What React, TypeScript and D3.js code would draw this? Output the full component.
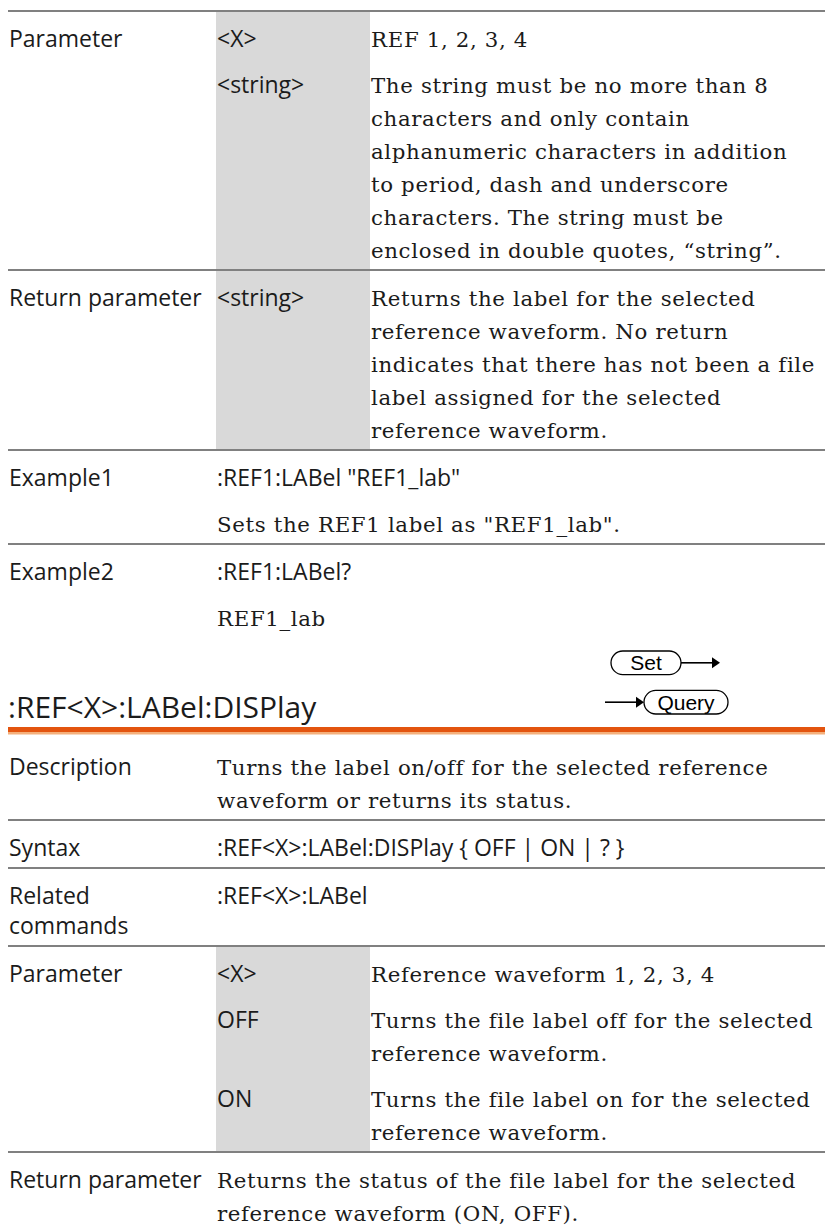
import React, { useRef, useEffect } from 'react';
import * as d3 from 'd3';

interface Entry {
  key?: string;
  face: 'sans' | 'serif';
  lines: string[];
}

interface Row {
  label: string[];
  entries: Entry[];
  shaded?: boolean;
}

// rows of the :REF<X>:LABel block (continued from the previous page)
const labelRows: Row[] = [
  {
    label: ['Parameter'],
    shaded: true,
    entries: [
      { key: '<X>', face: 'serif', lines: ['REF 1, 2, 3, 4'] },
      {
        key: '<string>',
        face: 'serif',
        lines: [
          'The string must be no more than 8',
          'characters and only contain',
          'alphanumeric characters in addition',
          'to period, dash and underscore',
          'characters. The string must be',
          'enclosed in double quotes, \u201cstring\u201d.',
        ],
      },
    ],
  },
  {
    label: ['Return parameter'],
    shaded: true,
    entries: [
      {
        key: '<string>',
        face: 'serif',
        lines: [
          'Returns the label for the selected',
          'reference waveform. No return',
          'indicates that there has not been a file',
          'label assigned for the selected',
          'reference waveform.',
        ],
      },
    ],
  },
  {
    label: ['Example1'],
    entries: [
      { face: 'sans', lines: [':REF1:LABel "REF1_lab"'] },
      { face: 'serif', lines: ['Sets the REF1 label as "REF1_lab".'] },
    ],
  },
  {
    label: ['Example2'],
    entries: [
      { face: 'sans', lines: [':REF1:LABel?'] },
      { face: 'serif', lines: ['REF1_lab'] },
    ],
  },
];

const displayHeading = ':REF<X>:LABel:DISPlay';

const displayRows: Row[] = [
  {
    label: ['Description'],
    entries: [
      {
        face: 'serif',
        lines: ['Turns the label on/off for the selected reference', 'waveform or returns its status.'],
      },
    ],
  },
  {
    label: ['Syntax'],
    entries: [{ face: 'sans', lines: [':REF<X>:LABel:DISPlay { OFF | ON | ? }'] }],
  },
  {
    label: ['Related', 'commands'],
    entries: [{ face: 'sans', lines: [':REF<X>:LABel'] }],
  },
  {
    label: ['Parameter'],
    shaded: true,
    entries: [
      { key: '<X>', face: 'serif', lines: ['Reference waveform 1, 2, 3, 4'] },
      { key: 'OFF', face: 'serif', lines: ['Turns the file label off for the selected', 'reference waveform.'] },
      { key: 'ON', face: 'serif', lines: ['Turns the file label on for the selected', 'reference waveform.'] },
    ],
  },
  {
    label: ['Return parameter'],
    entries: [
      {
        face: 'serif',
        lines: ['Returns the status of the file label for the selected', 'reference waveform (ON, OFF).'],
      },
    ],
  },
];

const commandModes = ['Set', 'Query'];

const W = 825;
const H = 1229;
const SANS = '"Open Sans", "Noto Sans", sans-serif';
const SERIF = '"DejaVu Serif", serif';
const INK = '#1b1b1b';

const App: React.FC = () => {
  const svgRef = useRef<SVGSVGElement>(null);

  useEffect(() => {
    if (!svgRef.current) return;
    const svg = d3.select(svgRef.current);
    svg.selectAll('*').remove();

    // column positions
    const colX = d3.scaleOrdinal<string, number>()
      .domain(['rule', 'label', 'key', 'text', 'shadeEnd'])
      .range([8, 9, 217, 371, 370]);
    const shadeX0 = 216;

    const padTop = 36;
    const padBottom = 12;
    const entryGap = 46;
    const lineStep = 33;
    const labelStep = 30;

    const sansText = (sel: d3.Selection<SVGTextElement, unknown, null, undefined>) =>
      sel.style('font-family', SANS).style('font-size', '23px').style('fill', INK);
    const serifText = (sel: d3.Selection<SVGTextElement, unknown, null, undefined>) =>
      sel.style('font-family', SERIF)
        .style('font-size', '21.3px')
        .style('letter-spacing', '0.65px')
        .style('fill', INK);

    const rule = (y: number) => {
      svg.append('line')
        .attr('x1', colX('rule'))
        .attr('x2', W)
        .attr('y1', y)
        .attr('y2', y)
        .attr('stroke', '#808080')
        .attr('stroke-width', 2);
    };

    // draws a block of rows starting at y, returns last baseline
    const drawRows = (rows: Row[], startY: number, ruleFirst: boolean) => {
      let y = startY;
      let lastBase = y;
      if (ruleFirst) rule(y);
      rows.forEach((row, ri) => {
        const g = svg.append('g');
        const shade = g.append('rect');
        const first = y + padTop;
        let base = first;
        let bottomBase = first;

        row.label.forEach((t, li) => {
          g.append('text')
            .attr('x', colX('label'))
            .attr('y', first + li * labelStep)
            .call(sansText)
            .text(t);
          bottomBase = Math.max(bottomBase, first + li * labelStep);
        });

        row.entries.forEach((e, ei) => {
          if (ei > 0) base += entryGap;
          if (e.key) {
            g.append('text')
              .attr('x', colX('key'))
              .attr('y', base)
              .call(sansText)
              .text(e.key);
          }
          e.lines.forEach((t, li) => {
            if (li > 0) base += lineStep;
            g.append('text')
              .attr('x', e.key ? colX('text') : colX('key'))
              .attr('y', base)
              .call(e.face === 'sans' ? sansText : serifText)
              .text(t);
          });
          bottomBase = Math.max(bottomBase, base);
        });

        const nextY = bottomBase + padBottom;
        if (row.shaded) {
          shade
            .attr('x', shadeX0)
            .attr('y', y + 1)
            .attr('width', colX('shadeEnd') - shadeX0)
            .attr('height', nextY - y - 2)
            .attr('fill', '#d9d9d9');
        } else {
          shade.remove();
        }
        lastBase = bottomBase;
        y = nextY;
        if (ri < rows.length - 1) rule(y);
      });
      return lastBase;
    };

    const endBase = drawRows(labelRows, 11, true);

    // heading
    const headBase = endBase + 92;
    svg.append('text')
      .attr('x', 8)
      .attr('y', headBase)
      .style('font-family', SANS)
      .style('font-size', '30px')
      .style('fill', INK)
      .text(displayHeading);

    const orangeY = headBase + 9;
    svg.append('rect')
      .attr('x', 8).attr('y', orangeY).attr('width', W - 8).attr('height', 5)
      .attr('fill', '#e3540f');
    svg.append('rect')
      .attr('x', 8).attr('y', orangeY + 5).attr('width', W - 8).attr('height', 2.5)
      .attr('fill', '#f4b07c');

    // Set / Query badges
    const badge = svg.append('g');
    const modeY = d3.scaleBand<string>()
      .domain(commandModes)
      .range([headBase - 67, headBase - 4])
      .paddingInner(0.4);
    const arrow = (x1: number, x2: number, y: number) => {
      badge.append('line')
        .attr('x1', x1).attr('x2', x2 - 7).attr('y1', y).attr('y2', y)
        .attr('stroke', '#000').attr('stroke-width', 1.6);
      badge.append('path')
        .attr('d', `M${x2 - 8},${y - 5.5}L${x2},${y}L${x2 - 8},${y + 5.5}Z`)
        .attr('fill', '#000');
    };
    commandModes.forEach((m) => {
      const top = modeY(m) || 0;
      const h = modeY.bandwidth();
      const cy = top + h / 2;
      const x0 = m === 'Set' ? 611 : 644;
      const w = m === 'Set' ? 70 : 84;
      badge.append('rect')
        .attr('x', x0).attr('y', top).attr('width', w).attr('height', h)
        .attr('rx', h / 2)
        .attr('fill', '#fff').attr('stroke', '#000').attr('stroke-width', 1.3);
      badge.append('text')
        .attr('x', x0 + w / 2).attr('y', cy + 7.5)
        .attr('text-anchor', 'middle')
        .style('font-family', '"Liberation Sans", Arial, sans-serif')
        .style('font-size', '21px')
        .style('fill', '#000')
        .text(m);
      if (m === 'Set') arrow(x0 + w, 720, cy);
      else arrow(605, x0, cy);
    });

    drawRows(displayRows, orangeY + 12, false);
  }, []);

  return (
    <svg
      ref={svgRef}
      width={W}
      height={H}
      style={{ position: 'absolute', left: 0, top: 0, background: '#fff' }}
    />
  );
};

export default App;
